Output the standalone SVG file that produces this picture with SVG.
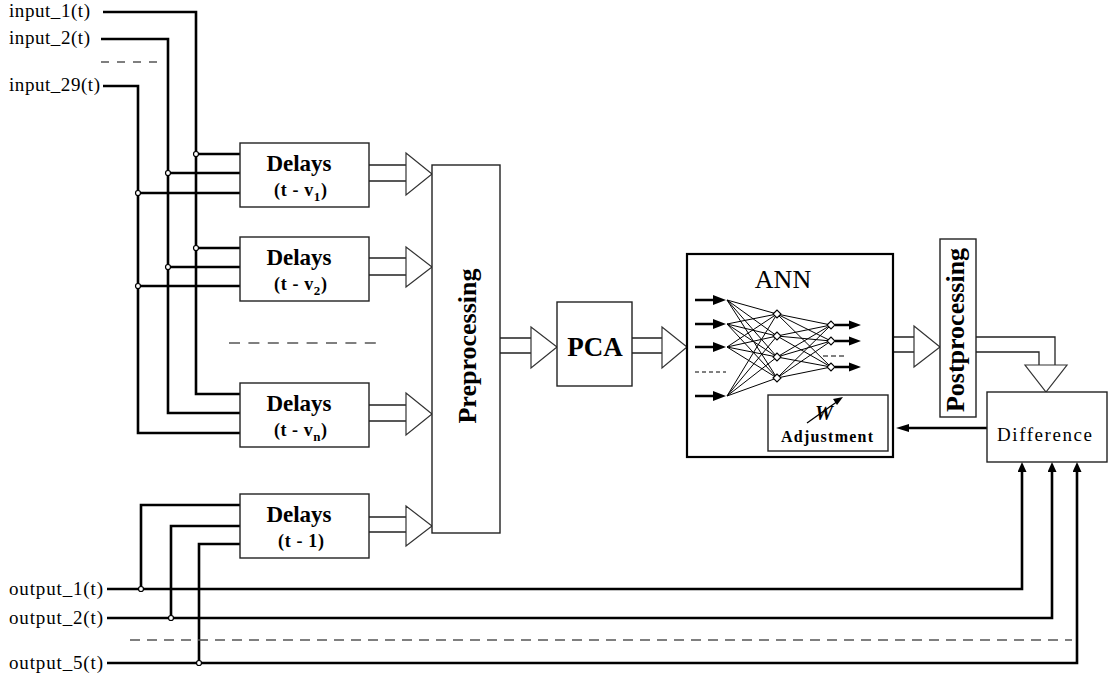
<svg xmlns="http://www.w3.org/2000/svg" width="1109" height="678" viewBox="0 0 1109 678">
<defs>
<style>
.box{fill:#fff;stroke:#222;stroke-width:1.4}
.wire{fill:none;stroke:#000;stroke-width:2.6}
.bus{fill:none;stroke:#222;stroke-width:1.3}
.tri{fill:#fff;stroke:#333;stroke-width:1.2}
.dash{fill:none;stroke:#555;stroke-width:1.6}
.dot{fill:#fff;stroke:#000;stroke-width:1.2}
.lbl{font-family:"Liberation Serif","Times New Roman",serif;font-size:19px;fill:#000}
.b{font-family:"Liberation Serif","Times New Roman",serif;font-weight:bold;fill:#000}
.r{font-family:"Liberation Serif","Times New Roman",serif;fill:#000}
.net{stroke:#000;stroke-width:1;fill:none}
.dia{fill:#fff;stroke:#000;stroke-width:1.1}
</style>
<marker id="ah" markerUnits="userSpaceOnUse" markerWidth="11" markerHeight="10" refX="0" refY="4.5" orient="auto"><path d="M0,0 L10,4.5 L0,9 z" fill="#000"/></marker>
<marker id="ahs" markerUnits="userSpaceOnUse" markerWidth="14" markerHeight="10" refX="0" refY="4" orient="auto"><path d="M0,0 L13,4 L0,8 z" fill="#000"/></marker>
</defs>
<rect width="1109" height="678" fill="#fff"/>

<g id="labels">
<text class="lbl" x="9" y="17" textLength="81" lengthAdjust="spacing">input_1(t)</text>
<text class="lbl" x="9" y="44" textLength="81" lengthAdjust="spacing">input_2(t)</text>
<text class="lbl" x="9" y="91" textLength="91" lengthAdjust="spacing">input_29(t)</text>
<text class="lbl" x="9" y="595" textLength="94" lengthAdjust="spacing">output_1(t)</text>
<text class="lbl" x="9" y="624" textLength="94" lengthAdjust="spacing">output_2(t)</text>
<text class="lbl" x="9" y="669" textLength="94" lengthAdjust="spacing">output_5(t)</text>
</g>

<g id="connectors">
<path class="wire" d="M103,12 H196 V394 H240"/>
<path class="wire" d="M101,39 H168 V413 H240"/>
<path class="wire" d="M103,86 H138 V433 H240"/>
<path class="wire" d="M196,154 H240 M196,248 H240 M168,173 H240 M168,267 H240 M138,193 H240 M138,286 H240"/>
<path class="wire" d="M107,589 H1022 V472" marker-end="url(#ah)"/>
<path class="wire" d="M107,618 H1052 V472" marker-end="url(#ah)"/>
<path class="wire" d="M107,663 H1077 V472" marker-end="url(#ah)"/>
<path class="wire" d="M141,589 V505 H241 M171,618 V526 H241 M199,663 V544 H241"/>
<circle class="dot" cx="196" cy="154" r="2.5"/>
<circle class="dot" cx="168" cy="173" r="2.5"/>
<circle class="dot" cx="138" cy="193" r="2.5"/>
<circle class="dot" cx="196" cy="248" r="2.5"/>
<circle class="dot" cx="168" cy="267" r="2.5"/>
<circle class="dot" cx="138" cy="286" r="2.5"/>
<circle class="dot" cx="141" cy="589" r="2.5"/>
<circle class="dot" cx="171" cy="618" r="2.5"/>
<circle class="dot" cx="199" cy="663" r="2.5"/>
<path class="dash" d="M101,62 H157" stroke-dasharray="8 8"/>
<path class="dash" d="M229,343 H376" stroke-dasharray="11 8.4"/>
<path class="dash" d="M130,640 H1072" stroke-dasharray="10 7"/>

<path class="bus" d="M369,165 H406 M369,181 H406"/>
<polygon class="tri" points="406,153 432,174 406,195"/>
<path class="bus" d="M369,258 H406 M369,275 H406"/>
<polygon class="tri" points="406,247 432,267 406,287"/>
<path class="bus" d="M369,405 H406 M369,421 H406"/>
<polygon class="tri" points="406,393 432,414 406,435"/>
<path class="bus" d="M369,517 H406 M369,532 H406"/>
<polygon class="tri" points="406,506 432,526 406,546"/>
<path class="bus" d="M500,338 H531 M500,353 H531"/>
<polygon class="tri" points="531,327 557,347 531,368"/>
<path class="bus" d="M632,338 H662 M632,353 H662"/>
<polygon class="tri" points="662,327 687,347 662,368"/>
<path class="bus" d="M893,337 H914 M893,352 H914"/>
<polygon class="tri" points="914,326 940,347 914,367"/>
<path class="bus" d="M976,337 H1055 V365 M976,352 H1039 V365"/>
<polygon class="tri" points="1025,365 1067,365 1046,392"/>
<path class="wire" d="M987,428 H909" marker-end="url(#ahs)"/>
</g>

<g id="delays1">
<rect class="box" x="240" y="143" width="129" height="64"/>
<text class="b" x="299" y="171" font-size="23" text-anchor="middle">Delays</text>
<text class="b" x="274" y="196" font-size="18" textLength="53" lengthAdjust="spacing">(t - v<tspan font-size="13" dy="5">1</tspan><tspan dy="-5">)</tspan></text>
</g>
<g id="delays2">
<rect class="box" x="240" y="237" width="129" height="64"/>
<text class="b" x="299" y="265" font-size="23" text-anchor="middle">Delays</text>
<text class="b" x="274" y="290" font-size="18" textLength="53" lengthAdjust="spacing">(t - v<tspan font-size="13" dy="5">2</tspan><tspan dy="-5">)</tspan></text>
</g>
<g id="delaysn">
<rect class="box" x="240" y="383" width="129" height="64"/>
<text class="b" x="299" y="411" font-size="23" text-anchor="middle">Delays</text>
<text class="b" x="274" y="436" font-size="18" textLength="53" lengthAdjust="spacing">(t - v<tspan font-size="13" dy="5">n</tspan><tspan dy="-5">)</tspan></text>
</g>
<g id="delays-t1">
<rect class="box" x="240" y="494" width="129" height="64"/>
<text class="b" x="299" y="522" font-size="23" text-anchor="middle">Delays</text>
<text class="b" x="278" y="547" font-size="18" textLength="46" lengthAdjust="spacing">(t - 1)</text>
</g>

<g id="preprocessing">
<rect class="box" x="432" y="165" width="68" height="368"/>
<text class="b" font-size="26" text-anchor="middle" transform="translate(476,346) rotate(-90)">Preprocessing</text>
</g>

<g id="pca">
<rect class="box" x="557" y="302" width="75" height="84"/>
<text class="b" x="595" y="356" font-size="27" text-anchor="middle">PCA</text>
</g>

<g id="ann">
<rect x="687" y="254" width="206" height="203" fill="#fff" stroke="#000" stroke-width="2.2"/>
<text class="r" x="783" y="288" font-size="26" text-anchor="middle">ANN</text>
<g class="net">
<path d="M727,300 L777,314 M727,300 L777,336 M727,300 L777,357 M727,300 L777,378"/>
<path d="M727,324 L777,314 M727,324 L777,336 M727,324 L777,357 M727,324 L777,378"/>
<path d="M727,347 L777,314 M727,347 L777,336 M727,347 L777,357 M727,347 L777,378"/>
<path d="M727,396 L777,314 M727,396 L777,336 M727,396 L777,357 M727,396 L777,378"/>
<path d="M777,314 L831,325 M777,314 L831,341 M777,314 L831,367"/>
<path d="M777,336 L831,325 M777,336 L831,341 M777,336 L831,367"/>
<path d="M777,357 L831,325 M777,357 L831,341 M777,357 L831,367"/>
<path d="M777,378 L831,325 M777,378 L831,341 M777,378 L831,367"/>
</g>
<path class="wire" d="M695,300 H714 M695,324 H714 M695,347 H714 M695,396 H714" stroke-width="3"/>
<path d="M713,295 L726,300 L713,305 z M713,319 L726,324 L713,329 z M713,342 L726,347 L713,352 z M713,391 L726,396 L713,401 z" fill="#000"/>
<path d="M695,372 H726" stroke="#000" stroke-width="1" stroke-dasharray="4 3"/>
<path class="wire" d="M835,325 H850 M835,341 H850 M835,367 H850" stroke-width="2.6"/>
<path d="M849,320.5 L861,325 L849,329.5 z M849,336.5 L861,341 L849,345.5 z M849,362.5 L861,367 L849,371.5 z" fill="#000"/>
<path d="M823,356 H846" stroke="#000" stroke-width="1" stroke-dasharray="5 3"/>
<g class="dia">
<polygon points="773,314 777,310 781,314 777,318"/>
<polygon points="773,336 777,332 781,336 777,340"/>
<polygon points="773,357 777,353 781,357 777,361"/>
<polygon points="773,378 777,374 781,378 777,382"/>
<polygon points="827,325 831,321 835,325 831,329"/>
<polygon points="827,341 831,337 835,341 831,345"/>
<polygon points="827,367 831,363 835,367 831,371"/>
</g>
</g>

<g id="adjustment">
<rect class="box" x="768" y="395" width="120" height="56"/>
<text class="b" x="824" y="420" font-size="20" font-style="italic" text-anchor="middle">W</text>
<path d="M807,423 L838,401" stroke="#000" stroke-width="1.3"/>
<path d="M843,397 L833,399 L837,405 z" fill="#000"/>
<text class="b" x="781" y="442" font-size="16" textLength="92" lengthAdjust="spacing">Adjustment</text>
</g>

<g id="postprocessing">
<rect class="box" x="940" y="239" width="36" height="178"/>
<text class="b" font-size="26" text-anchor="middle" transform="translate(964,330) rotate(-90)">Postprocessing</text>
</g>

<g id="difference">
<rect class="box" x="987" y="392" width="120" height="70"/>
<text class="r" x="997" y="441" font-size="19" textLength="95" lengthAdjust="spacing">Difference</text>
</g>
</svg>
